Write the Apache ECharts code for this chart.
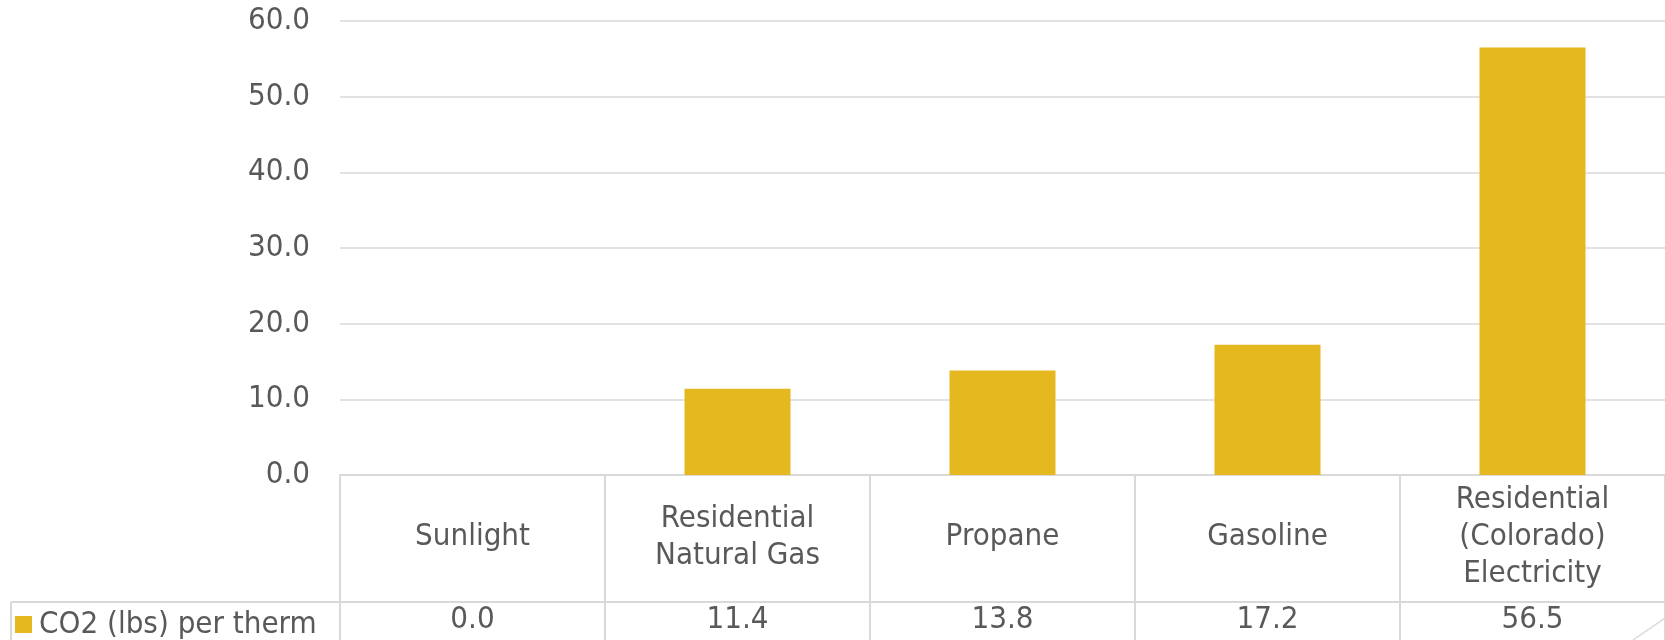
<!DOCTYPE html>
<html>
<head>
<meta charset="utf-8">
<script src="https://cdn.jsdelivr.net/npm/echarts@6/dist/echarts.min.js"></script>
<style>
html,body{margin:0;padding:0;background:#fff;}
#chart{width:1665px;height:640px;}
</style>
</head>
<body>
<div id="chart"></div>
<script>
const categories = ['Sunlight', 'Residential\nNatural Gas', 'Propane', 'Gasoline', 'Residential\n(Colorado)\nElectricity'];
const seriesName = 'CO2 (lbs) per therm';
const values = [0.0, 11.4, 13.8, 17.2, 56.5];
const yMin = 0, yMax = 60, yInterval = 10;

const FONT = '"DejaVu Sans Condensed", "DejaVu Sans", sans-serif';
const FS = 31;
const TXT = '#595959';
const LINE = '#d9d9d9';
const BAR = '#E5B81F';

const chart = echarts.init(document.getElementById('chart'), null, {renderer: 'canvas'});
chart.setOption({
  animation: false,
  backgroundColor: '#ffffff',
  textStyle: {fontFamily: FONT},
  grid: {left: 340, right: 0, top: 21, bottom: 165, containLabel: false},
  legend: {
    data: [seriesName],
    left: 10, top: 604,
    icon: 'rect', itemWidth: 17, itemHeight: 17, itemGap: 0,
    textStyle: {fontFamily: FONT, fontSize: FS, color: TXT, padding: [0, 0, 0, 2]}
  },
  xAxis: [{
    type: 'category',
    data: categories,
    position: 'bottom',
    axisLine: {show: true, lineStyle: {color: LINE, width: 2}},
    axisTick: {show: true, interval: 0, length: 127, lineStyle: {color: LINE, width: 2}},
    axisLabel: {interval: 0, margin: 62, verticalAlign: 'middle', lineHeight: 37,
      fontFamily: FONT, fontSize: FS, color: TXT}
  }, {
    type: 'category',
    data: values.map(v => v.toFixed(1)),
    position: 'bottom',
    offset: 127,
    axisLine: {show: true, lineStyle: {color: LINE, width: 2}},
    axisTick: {show: true, interval: 0, length: 50, lineStyle: {color: LINE, width: 2}},
    axisLabel: {interval: 0, margin: 18, verticalAlign: 'middle',
      fontFamily: FONT, fontSize: FS, color: TXT}
  }],
  yAxis: {
    type: 'value',
    min: yMin, max: yMax, interval: yInterval,
    axisLine: {show: false},
    axisTick: {show: false},
    splitLine: {lineStyle: {color: LINE, width: 1.5}},
    axisLabel: {margin: 30, fontFamily: FONT, fontSize: FS, color: TXT,
      formatter: v => v.toFixed(1)}
  },
  series: [{
    name: seriesName,
    type: 'bar',
    xAxisIndex: 0,
    data: values,
    barWidth: '40%',
    itemStyle: {color: BAR}
  }],
  graphic: [
    {type: 'line', shape: {x1: 11, y1: 602, x2: 340, y2: 602}, style: {stroke: LINE, lineWidth: 2}},
    {type: 'line', shape: {x1: 11, y1: 602, x2: 11, y2: 640}, style: {stroke: LINE, lineWidth: 2}},
    {type: 'line', shape: {x1: 1633, y1: 640, x2: 1665, y2: 618}, style: {stroke: LINE, lineWidth: 1.5}}
  ]
});
</script>
</body>
</html>
